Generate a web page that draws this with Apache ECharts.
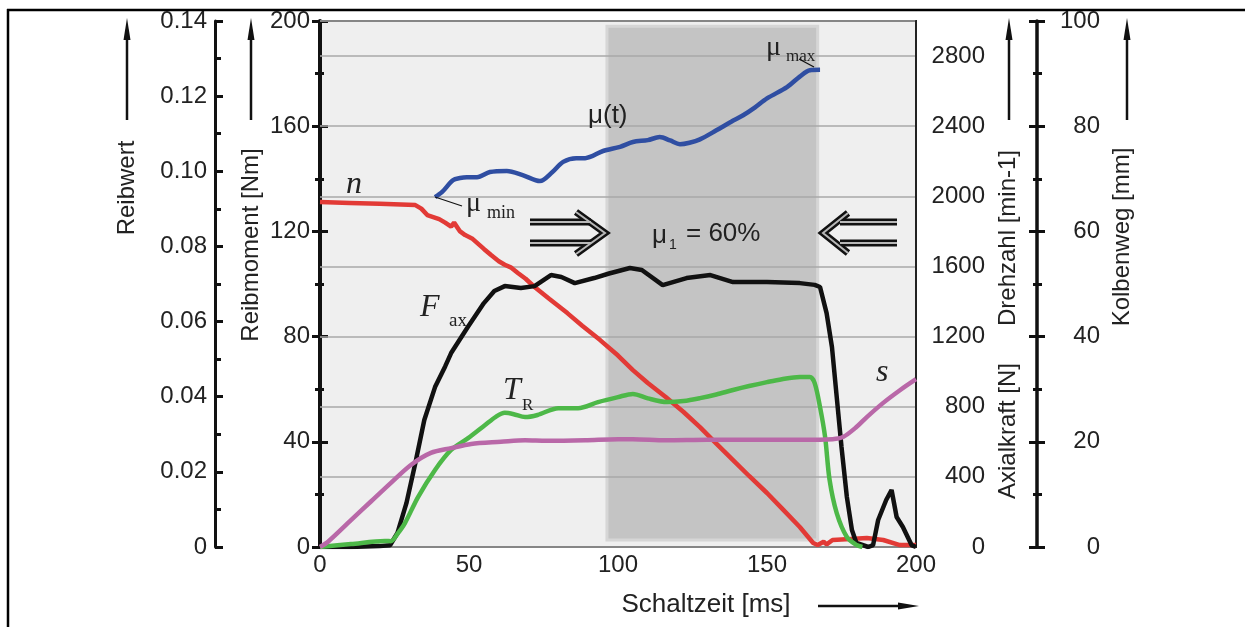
<!DOCTYPE html>
<html>
<head>
<meta charset="utf-8">
<script src="https://cdn.jsdelivr.net/npm/echarts@6/dist/echarts.min.js"></script>
<style>
html,body{margin:0;padding:0;background:#fff;}
#main{width:1245px;height:627px;}
</style>
</head>
<body>
<div id="main"></div>
<script>
var nTime  = [0, 10, 20, 32, 34, 36, 40, 42, 44, 45, 47, 48.7, 51, 53, 55, 57.4, 60, 62, 64, 66.4, 69, 72, 77, 83, 88, 94, 100, 105, 110, 116, 122, 127.5, 133, 138.6, 144, 150, 155, 161, 165.5, 167, 169, 170, 172, 178, 183.5, 189, 194.6, 200];
var nValue = [1967, 1962, 1957, 1950, 1930, 1893, 1870, 1850, 1827, 1850, 1800, 1779, 1760, 1730, 1700, 1665, 1630, 1610, 1595, 1563, 1530, 1483, 1415, 1334, 1262, 1180, 1092, 1009, 935, 855, 770, 684, 590, 496, 405, 308, 220, 114, 23, 11, 30, 15, 40, 45, 51, 40, 11, 11];

var muTime  = [38.6, 41, 44.6, 47, 49.3, 52.7, 57, 62.7, 68, 73.8, 78, 81.6, 86, 89, 95, 100.7, 105, 110, 114, 117.5, 120.8, 124, 127.5, 133, 138, 142, 146, 150, 156.7, 161, 164.4, 167.8];
var muValue = [0.0931, 0.0945, 0.0976, 0.0982, 0.0984, 0.0984, 0.0998, 0.1001, 0.0990, 0.0974, 0.0998, 0.1025, 0.1035, 0.1035, 0.1054, 0.1065, 0.1078, 0.1083, 0.1091, 0.1082, 0.1072, 0.1076, 0.1085, 0.1109, 0.1132, 0.1149, 0.1170, 0.1194, 0.1224, 0.1252, 0.1269, 0.1270];

var faxTime  = [0, 10, 20, 23.5, 26, 29, 32, 35, 38.6, 42, 44, 49.6, 55, 58.5, 62, 67.4, 72, 77.5, 81, 85.5, 92, 97, 104, 108, 115, 123, 131, 138.6, 150, 161, 166, 167.8, 170, 171.8, 173.4, 175, 176.8, 178.5, 180, 184, 185.6, 187.3, 190, 191.8, 193.5, 195.6, 198.5, 200];
var faxValue = [0, 0, 5, 10, 80, 250, 479, 724, 912, 1030, 1106, 1255, 1391, 1460, 1488, 1477, 1488, 1551, 1540, 1505, 1534, 1560, 1591, 1580, 1494, 1534, 1551, 1511, 1511, 1505, 1495, 1483, 1334, 1140, 855, 570, 285, 97, 23, 0, 11, 154, 268, 325, 171, 114, 11, 0];

var trTime  = [0, 10.4, 21.8, 23.8, 26, 28.5, 32.9, 38.6, 44, 49.7, 55.4, 59, 62, 65, 68.8, 73, 80, 86.6, 93.3, 100, 105, 110, 116.4, 122, 127.5, 133, 138.6, 144, 150, 155, 161, 164.4, 166, 167.8, 169.5, 171, 173.4, 176.8, 180, 182];
var trValue = [0, 1.1, 2.3, 2.2, 5, 9.1, 19, 29.3, 36.9, 41.4, 46.4, 49.5, 51, 50.5, 49.4, 50.2, 52.8, 52.8, 55.1, 57, 58.2, 56.5, 55.1, 55.5, 56.6, 58, 59.7, 61.2, 62.7, 63.8, 64.6, 64.6, 62.3, 53.2, 41.8, 25.5, 12.9, 3.8, 0.8, 0];

var sTime  = [0, 2.7, 10.4, 17, 23.8, 30.5, 37.2, 44, 50.7, 60.7, 68.8, 76, 89, 100, 105, 116, 130, 145, 161, 172, 175.5, 180, 183.5, 189, 194.6, 200];
var sValue = [0, 1.0, 5.1, 8.6, 12.2, 15.6, 17.9, 18.8, 19.6, 20.0, 20.3, 20.2, 20.3, 20.5, 20.5, 20.3, 20.4, 20.4, 20.4, 20.5, 20.9, 22.8, 24.7, 27.4, 29.8, 31.9];

// Bereich mu_1 = 60 %
var zoneStart = 96.3;
var zoneEnd = 167;

function pairs(xs, ys) {
    return xs.map(function (x, i) { return [x, ys[i]]; });
}

var LABEL_FONT = 'Liberation Sans';
var SERIF = 'Liberation Serif';

var myChart = echarts.init(document.getElementById('main'));

function arrowUp(x, y1, y2) {
    return [
        {type: 'line', z: 10, shape: {x1: x, y1: y1, x2: x, y2: y2 + 14}, style: {stroke: '#111', lineWidth: 2.5}},
        {type: 'polygon', z: 10, shape: {points: [[x, y2], [x - 3.5, y2 + 22], [x + 3.5, y2 + 22]]}, style: {fill: '#111'}}
    ];
}

function vText(x, y, text) {
    return {type: 'text', z: 10, x: x, y: y, rotation: Math.PI / 2,
        style: {text: text, font: '24px ' + LABEL_FONT, fill: '#222', align: 'center', verticalAlign: 'middle'}};
}

// y = Mitte der Textzeile
function txt(x, y, text, font) {
    return {type: 'text', z: 10, x: x, y: y,
        style: {text: text, font: font, fill: '#222', align: 'left', verticalAlign: 'middle'}};
}

function hollow(points) {
    return [
        {type: 'polyline', z: 10, shape: {points: points}, style: {stroke: '#111', lineWidth: 7, lineJoin: 'miter', fill: null}},
        {type: 'polyline', z: 11, shape: {points: points}, style: {stroke: '#b8b8b8', lineWidth: 2, lineJoin: 'miter', fill: null}}
    ];
}

var graphics = []
    .concat(arrowUp(127, 120, 18))
    .concat(arrowUp(251, 120, 18))
    .concat(arrowUp(1009, 120, 18))
    .concat(arrowUp(1127, 120, 18))
    .concat([
        vText(127, 188, 'Reibwert'),
        vText(251, 245, 'Reibmoment [Nm]'),
        vText(1008, 238, 'Drehzahl [min-1]'),
        vText(1008, 431, 'Axialkraft [N]'),
        vText(1122, 237, 'Kolbenweg [mm]'),
        {type: 'text', z: 10, x: 706, y: 605, style: {text: 'Schaltzeit [ms]', font: '26px ' + LABEL_FONT, fill: '#222', align: 'center', verticalAlign: 'middle'}},
        {type: 'line', z: 10, shape: {x1: 818, y1: 606, x2: 905, y2: 606}, style: {stroke: '#111', lineWidth: 2.5}},
        {type: 'polygon', z: 10, shape: {points: [[919, 606], [898, 602.5], [898, 609.5]]}, style: {fill: '#111'}},
        // Rahmen
        {type: 'line', z: 10, shape: {x1: 7, y1: 10, x2: 1245, y2: 10}, style: {stroke: '#000', lineWidth: 2.5}},
        {type: 'line', z: 10, shape: {x1: 8, y1: 9, x2: 8, y2: 627}, style: {stroke: '#000', lineWidth: 2.5}},
        // Beschriftungen
        txt(346, 185, 'n', 'italic 32px ' + SERIF),
        txt(420, 308, 'F', 'italic 32px ' + SERIF),
        txt(449, 321, 'ax', '19px ' + SERIF),
        txt(503, 391, 'T', 'italic 32px ' + SERIF),
        txt(522, 406, 'R', '17px ' + SERIF),
        txt(876, 373, 's', 'italic 32px ' + SERIF),
        txt(466, 204, 'μ', '28px ' + SERIF),
        txt(487, 213, 'min', '18px ' + SERIF),
        {type: 'line', z: 10, shape: {x1: 435, y1: 197, x2: 462, y2: 206}, style: {stroke: '#111', lineWidth: 1.2}},
        txt(766, 48, 'μ', '28px ' + SERIF),
        txt(786, 57, 'max', '17px ' + SERIF),
        {type: 'line', z: 10, shape: {x1: 799, y1: 59, x2: 814, y2: 67}, style: {stroke: '#111', lineWidth: 1.2}},
        txt(588, 116, 'μ(t)', '26px ' + LABEL_FONT),
        txt(652, 236, 'μ', '26px ' + LABEL_FONT),
        txt(669, 245, '1', '14px ' + LABEL_FONT),
        txt(686, 234, '= 60%', '26px ' + LABEL_FONT)
    ])
    .concat(hollow([[530, 222], [591, 222]]))
    .concat(hollow([[530, 243], [591, 243]]))
    .concat(hollow([[576, 212], [605, 233], [576, 254]]))
    .concat(hollow([[840, 222], [897, 222]]))
    .concat(hollow([[840, 243], [897, 243]]))
    .concat(hollow([[848, 213], [823, 233], [848, 253]]));

var tickLabel = {fontFamily: LABEL_FONT, fontSize: 24, color: '#222'};
function plain(v) { return String(v); }
var hiddenLine = {show: true, lineStyle: {color: 'rgba(0,0,0,0)', width: 1}};

var option = {
    animation: false,
    backgroundColor: '#fff',
    grid: {left: 320, right: 329, top: 21, bottom: 80, show: true,
        backgroundColor: '#efefef', borderColor: '#222', borderWidth: 2},
    xAxis: {
        type: 'value', min: 0, max: 200, interval: 50,
        axisLine: {lineStyle: {color: '#222', width: 2}},
        axisTick: {show: false},
        splitLine: {show: false},
        axisLabel: Object.assign({margin: 6, formatter: plain}, tickLabel)
    },
    yAxis: [
        { // 0 Reibmoment
            type: 'value', position: 'left', offset: 0, min: 0, max: 200, interval: 40,
            axisLine: {show: true, lineStyle: {color: '#111', width: 4}},
            axisTick: {show: true, inside: false, length: 8, lineStyle: {color: '#111', width: 3}},
            minorTick: {show: true, splitNumber: 2, length: 5, lineStyle: {color: '#111', width: 3}},
            splitLine: {show: false},
            axisLabel: Object.assign({margin: 10, formatter: plain}, tickLabel)
        },
        { // 1 Reibmoment, Striche nach innen
            type: 'value', position: 'left', offset: 0, min: 0, max: 200, interval: 40, z: 1,
            axisLine: hiddenLine,
            axisTick: {show: true, inside: true, length: 8, lineStyle: {color: '#111', width: 3}},
            minorTick: {show: true, splitNumber: 2, length: 4, lineStyle: {color: '#111', width: 3}},
            splitLine: {show: false},
            axisLabel: {show: false}
        },
        { // 2 Reibwert
            type: 'value', position: 'left', offset: 105, min: 0, max: 0.14, interval: 0.02,
            axisLine: {show: true, lineStyle: {color: '#111', width: 3}},
            axisTick: {show: true, inside: true, length: 8, lineStyle: {color: '#111', width: 3}},
            minorTick: {show: true, splitNumber: 2, length: 6, lineStyle: {color: '#111', width: 3}},
            splitLine: {show: false},
            axisLabel: Object.assign({margin: 8, formatter: function (v) { return v === 0 ? '0' : v.toFixed(2); }}, tickLabel)
        },
        { // 3 Drehzahl / Axialkraft
            type: 'value', position: 'right', offset: 0, min: 0, max: 3000, interval: 400, z: 2,
            axisLine: {show: true, lineStyle: {color: '#222', width: 2}},
            axisTick: {show: false},
            splitLine: {show: true, lineStyle: {color: '#a8a8a8', width: 1.6}},
            axisLabel: Object.assign({margin: 69, align: 'right', showMaxLabel: false, formatter: plain}, tickLabel)
        },
        { // 4 Kolbenweg
            type: 'value', position: 'right', offset: 121, min: 0, max: 100, interval: 20,
            axisLine: {show: true, lineStyle: {color: '#111', width: 3.5}},
            axisTick: {show: true, inside: false, length: 8, lineStyle: {color: '#111', width: 3}},
            minorTick: {show: true, splitNumber: 2, length: 5, lineStyle: {color: '#111', width: 3}},
            splitLine: {show: false},
            axisLabel: Object.assign({margin: 63, align: 'right', formatter: plain}, tickLabel)
        },
        { // 5 Kolbenweg, Striche nach innen
            type: 'value', position: 'right', offset: 121, min: 0, max: 100, interval: 20, z: 1,
            axisLine: hiddenLine,
            axisTick: {show: true, inside: true, length: 8, lineStyle: {color: '#111', width: 3}},
            minorTick: {show: true, splitNumber: 2, length: 4, lineStyle: {color: '#111', width: 3}},
            splitLine: {show: false},
            axisLabel: {show: false}
        }
    ],
    series: [
        {
            name: 'n', type: 'line', yAxisIndex: 3, z: 3, showSymbol: false,
            lineStyle: {color: '#e23a36', width: 4.5},
            data: pairs(nTime, nValue),
            markArea: {
                silent: true, z: 1,
                itemStyle: {color: '#c4c4c4', borderColor: '#d6d6d6', borderWidth: 3},
                data: [[{xAxis: zoneStart, yAxis: 40}, {xAxis: zoneEnd, yAxis: 2970}]]
            }
        },
        {
            name: 'mu', type: 'line', yAxisIndex: 2, z: 3, showSymbol: false, smooth: 0.3,
            lineStyle: {color: '#2f4ea2', width: 4.5},
            data: pairs(muTime, muValue)
        },
        {
            name: 'Fax', type: 'line', yAxisIndex: 3, z: 3, showSymbol: false,
            lineStyle: {color: '#111', width: 4.5},
            data: pairs(faxTime, faxValue)
        },
        {
            name: 'TR', type: 'line', yAxisIndex: 0, z: 3, showSymbol: false, smooth: 0.3,
            lineStyle: {color: '#4db848', width: 4.5},
            data: pairs(trTime, trValue)
        },
        {
            name: 's', type: 'line', yAxisIndex: 4, z: 3, showSymbol: false, smooth: 0.3,
            lineStyle: {color: '#b968a8', width: 4.5},
            data: pairs(sTime, sValue)
        }
    ],
    graphic: graphics
};
myChart.setOption(option);
</script>
</body>
</html>
